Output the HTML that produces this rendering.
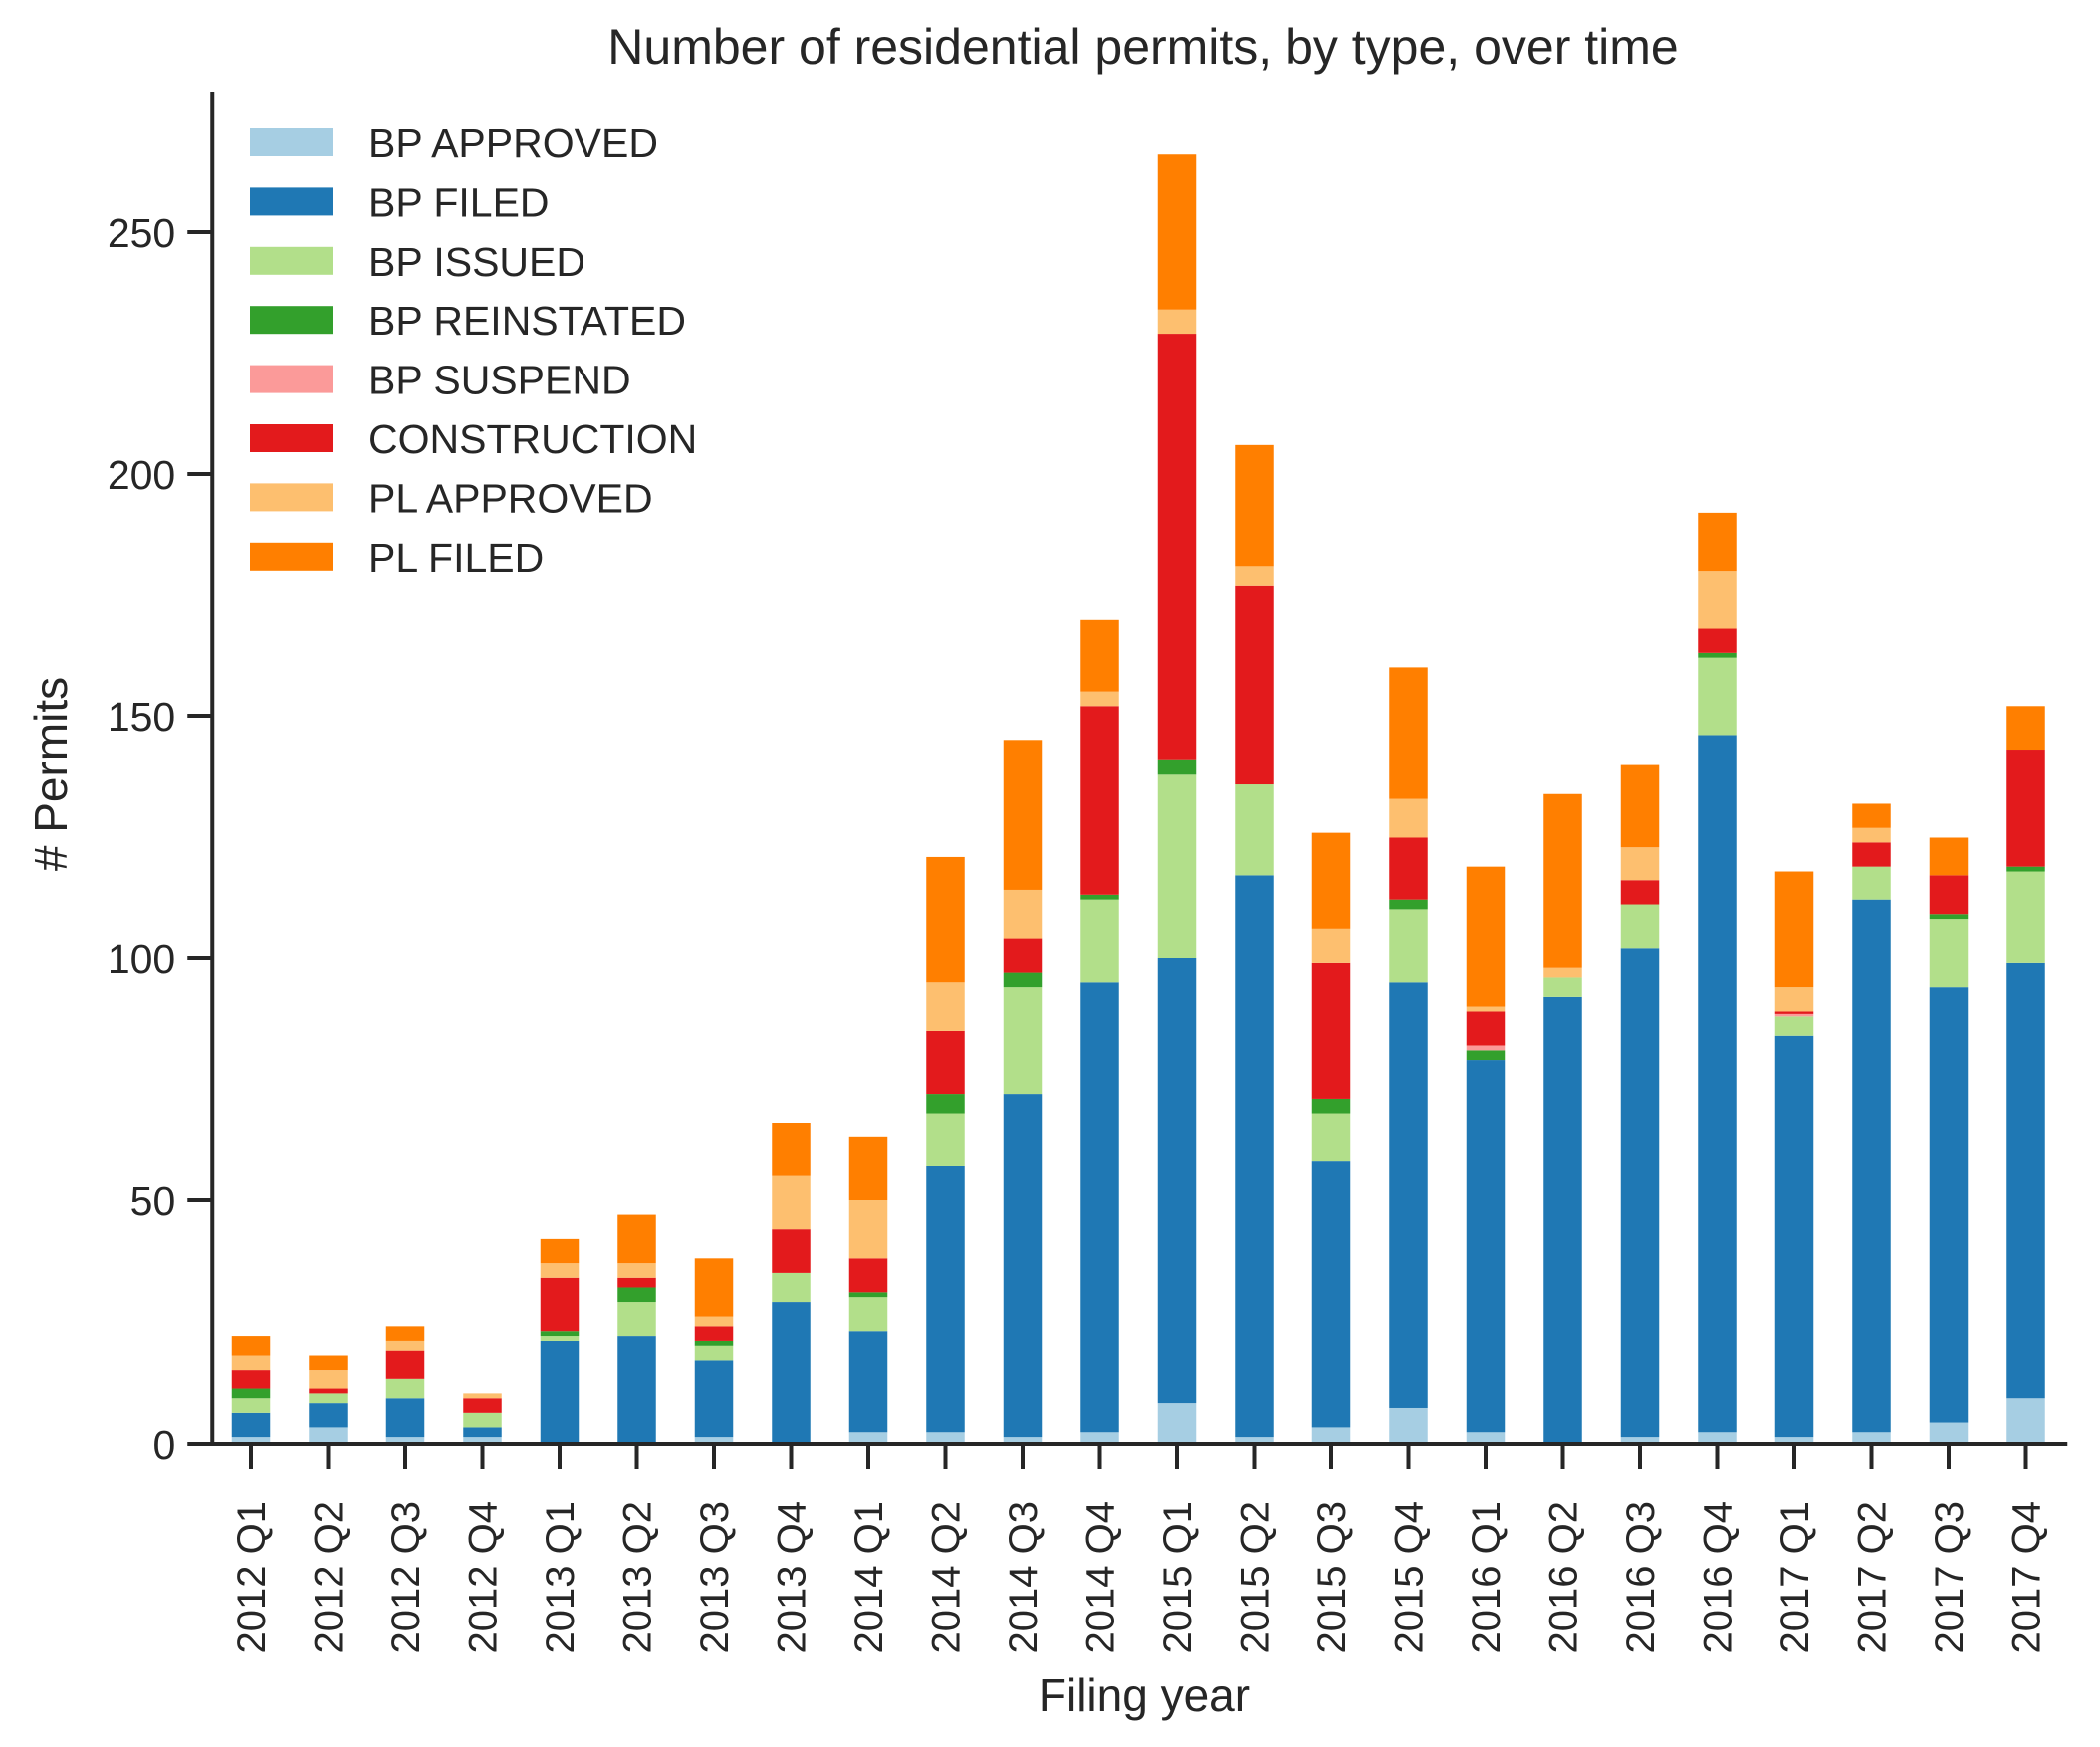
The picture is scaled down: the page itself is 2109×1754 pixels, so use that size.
<!DOCTYPE html>
<html><head><meta charset="utf-8"><style>
body{margin:0;background:#fff;}
svg{display:block;font-family:"Liberation Sans",Arial,sans-serif;fill:#262626;}
</style></head><body>
<svg id="chart" width="2109" height="1754" viewBox="0 0 2109 1754">
<text x="1148" y="64" font-size="50" text-anchor="middle">Number of residential permits, by type, over time</text>
<text x="1149" y="1718" font-size="46" text-anchor="middle">Filing year</text>
<text transform="translate(67,777) rotate(-90)" font-size="46" text-anchor="middle"># Permits</text>
<g id="bars"></g><g id="axes"></g><g id="legend"></g>
</svg>
<script>
const categories=["2012 Q1","2012 Q2","2012 Q3","2012 Q4","2013 Q1","2013 Q2","2013 Q3","2013 Q4","2014 Q1","2014 Q2","2014 Q3","2014 Q4","2015 Q1","2015 Q2","2015 Q3","2015 Q4","2016 Q1","2016 Q2","2016 Q3","2016 Q4","2017 Q1","2017 Q2","2017 Q3","2017 Q4"];
const seriesNames=["BP APPROVED","BP FILED","BP ISSUED","BP REINSTATED","BP SUSPEND","CONSTRUCTION","PL APPROVED","PL FILED"];
const seriesColors=["#a6cee3","#1f78b4","#b2df8a","#33a02c","#fb9a99","#e31a1c","#fdbf6f","#ff7f00"];
const bpApproved=[1,3,1,1,0,0,1,0,2,2,1,2,8,1,3,7,2,0,1,2,1,2,4,9];
const bpFiled=[5,5,8,2,21,22,16,29,21,55,71,93,92,116,55,88,77,92,101,144,83,110,90,90];
const bpIssued=[3,2,4,3,1,7,3,6,7,11,22,17,38,19,10,15,0,4,9,16,4,7,14,19];
const bpReinstated=[2,0,0,0,1,3,1,0,1,4,3,1,3,0,3,2,2,0,0,1,0,0,1,1];
const bpSuspend=[0,0,0,0,0,0,0,0,0,0,0,0,0,0,0,0,1,0,0,0,0.5,0,0,0];
const construction=[4,1,6,3,11,2,3,9,7,13,7,39,88,41,28,13,7,0,5,5,0.5,5,8,24];
const plApproved=[3,4,2,1,3,3,2,11,12,10,10,3,5,4,7,8,1,2,7,12,5,3,0,0];
const plFiled=[4,3,3,0,5,10,12,11,13,26,31,15,32,25,20,27,29,36,17,12,24,5,8,9];
const yTicks=[0,50,100,150,200,250];
const series=[bpApproved,bpFiled,bpIssued,bpReinstated,bpSuspend,construction,plApproved,plFiled];

const NS="http://www.w3.org/2000/svg";
const X0=213.25,X1=2073.25,Y0=1448,YTOP=92,PXU=4.86;
const step=(X1-X0)/categories.length;
function xScale(i){return X0+step*(i+0.5);}
function yScale(v){return Y0-v*PXU;}
function mk(tag,attrs,parent){const e=document.createElementNS(NS,tag);for(const k in attrs)e.setAttribute(k,attrs[k]);parent.appendChild(e);return e;}

const bars=document.getElementById('bars');
const bw=38.5;
categories.forEach((c,i)=>{
  let cum=0;
  series.forEach((s,j)=>{
    const v=s[i]; if(v<=0){return;}
    const r=mk('rect',{x:xScale(i)-bw/2,y:yScale(cum+v),width:bw,height:v*PXU,fill:seriesColors[j]},bars);
    
    
    cum+=v;
  });
});

const axes=document.getElementById('axes');
let l=mk('line',{x1:X0,y1:YTOP,x2:X0,y2:Y0+2,stroke:'#262626','stroke-width':4},axes);


l=mk('line',{x1:X0-2,y1:Y0+2,x2:X1+3,y2:Y0+2,stroke:'#262626','stroke-width':4},axes);


yTicks.forEach(t=>{
  const y=yScale(t)+ (t===0?2:0);
  const tk=mk('line',{x1:X0-25,y1:y,x2:X0,y2:y,stroke:'#262626','stroke-width':4},axes);
  
  
  const tx=mk('text',{x:X0-37,y:y+15,'font-size':41,'text-anchor':'end'},axes);
  tx.textContent=t;
  
  
});
categories.forEach((c,i)=>{
  const x=xScale(i);
  const tk=mk('line',{x1:x,y1:Y0+2,x2:x,y2:Y0+27,stroke:'#262626','stroke-width':4},axes);
  
  
  const tx=mk('text',{transform:`translate(${x+14},1507) rotate(-90)`,'font-size':40,'text-anchor':'end'},axes);
  tx.textContent=c;
  
  
});

const legend=document.getElementById('legend');
seriesNames.forEach((n,j)=>{
  const cy=143+j*59.4;
  const r=mk('rect',{x:251,y:cy-14,width:83,height:28,fill:seriesColors[j]},legend);
  
  
  const t=mk('text',{x:370,y:cy+15,'font-size':41},legend);
  t.textContent=n;
  
  
});
</script>
</body></html>
